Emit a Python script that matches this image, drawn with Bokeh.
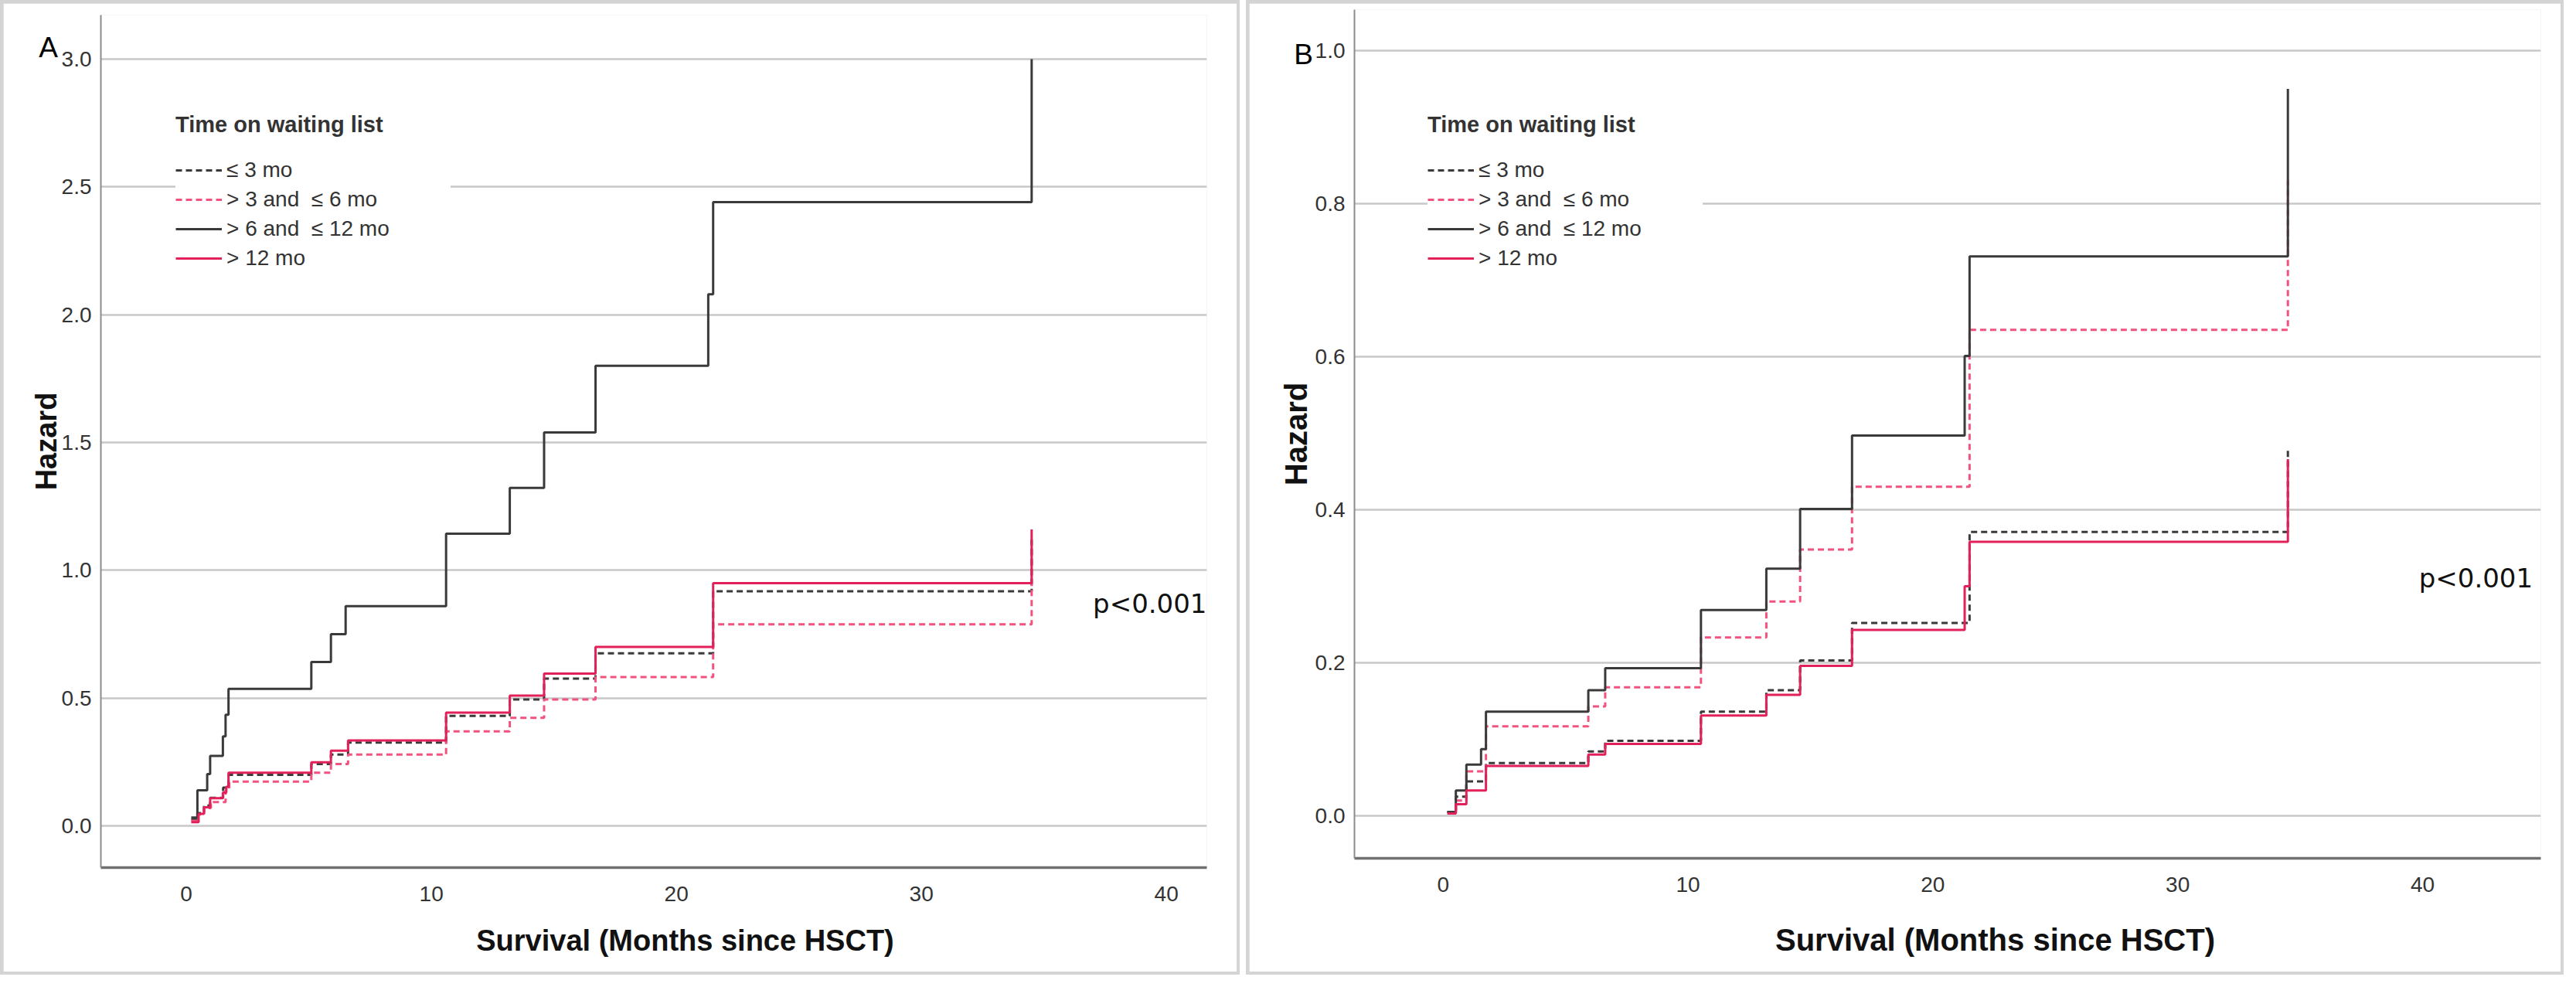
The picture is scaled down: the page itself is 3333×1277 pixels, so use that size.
from bokeh.plotting import figure
from bokeh.models import (FixedTicker, PrintfTickFormatter, Legend, LegendItem,
                          Label, Range1d, ColumnDataSource)
from bokeh.layouts import row, column
from bokeh.embed import file_html
from bokeh.resources import INLINE

# ---------------- data ----------------
legend_title = "Time on waiting list"
group_labels = ["≤ 3 mo", "> 3 and  ≤ 6 mo", "> 6 and  ≤ 12 mo", "> 12 mo"]
x_label = "Survival (Months since HSCT)"
y_label = "Hazard"
x_ticks = [0, 10, 20, 30, 40]
y_ticks_A = [0.0, 0.5, 1.0, 1.5, 2.0, 2.5, 3.0]
y_ticks_B = [0.0, 0.2, 0.4, 0.6, 0.8, 1.0]

# Panel A
tA_le3 = [0.2, 0.45, 0.72, 0.97, 1.5, 1.72, 5.1, 5.9, 6.6, 10.6, 13.2, 14.6, 16.7, 21.5, 34.5]
hA_le3 = [0.025, 0.05, 0.08, 0.11, 0.15, 0.20, 0.242, 0.279, 0.326, 0.43, 0.495, 0.576, 0.675, 0.918, 1.12]
tA_3to6 = [0.2, 0.45, 0.72, 1.0, 1.6, 1.75, 5.1, 5.9, 6.6, 10.6, 13.2, 14.6, 16.7, 21.5, 34.5]
hA_3to6 = [0.02, 0.045, 0.07, 0.093, 0.14, 0.173, 0.208, 0.242, 0.279, 0.37, 0.423, 0.495, 0.582, 0.789, 1.10]
tA_6to12 = [0.2, 0.45, 0.85, 0.97, 1.49, 1.6, 1.72, 5.1, 5.9, 6.5, 10.6, 13.2, 14.6, 16.7, 21.3, 21.5, 34.5]
hA_6to12 = [0.033, 0.139, 0.203, 0.274, 0.35, 0.435, 0.536, 0.641, 0.75, 0.86, 1.143, 1.322, 1.539, 1.80, 2.08, 2.44, 3.0]
tA_gt12 = [0.2, 0.5, 0.72, 0.97, 1.49, 1.63, 1.72, 5.1, 5.9, 6.6, 10.6, 13.2, 14.6, 16.7, 21.5, 34.5]
hA_gt12 = [0.015, 0.047, 0.073, 0.108, 0.13, 0.153, 0.208, 0.249, 0.294, 0.334, 0.443, 0.51, 0.596, 0.70, 0.95, 1.16]

# Panel B
tB_le3 = [0.17, 0.52, 0.95, 1.75, 5.93, 6.62, 10.53, 13.2, 14.58, 16.7, 21.5, 34.5]
hB_le3 = [0.005, 0.025, 0.045, 0.069, 0.084, 0.098, 0.136, 0.164, 0.203, 0.252, 0.371, 0.482]
tB_3to6 = [0.17, 0.52, 0.95, 1.75, 5.93, 6.62, 10.53, 13.2, 14.58, 16.7, 21.5, 34.5]
hB_3to6 = [0.005, 0.02, 0.058, 0.117, 0.143, 0.168, 0.233, 0.280, 0.348, 0.430, 0.635, 0.83]
tB_6to12 = [0.17, 0.52, 0.95, 1.55, 1.75, 5.93, 6.62, 10.53, 13.2, 14.58, 16.7, 21.3, 21.5, 34.5]
hB_6to12 = [0.005, 0.033, 0.067, 0.087, 0.136, 0.164, 0.193, 0.269, 0.323, 0.401, 0.497, 0.601, 0.731, 0.95]
tB_gt12 = [0.17, 0.52, 0.95, 1.75, 5.93, 6.62, 10.53, 13.2, 14.58, 16.7, 21.3, 21.5, 34.5]
hB_gt12 = [0.003, 0.015, 0.033, 0.065, 0.080, 0.094, 0.131, 0.158, 0.196, 0.243, 0.30, 0.358, 0.466]

p_text = "p<0.001"

# ---------------- styling ----------------
COL_BLACK = "#3a3a3a"
COL_RED = "#e2205a"
COL_PINK = "#f2527e"
LW = 3
DASH = "8 5"
FONT = "Liberation Sans"
BORDER = "#d4d4d4"


def make_panel(letter, width, height, mb, xr, yr, yticks, series, legend_xy,
               p_xy, letter_xy, xlab_xy, lab_size, ylab_standoff):
    p = figure(width=width, height=height, output_backend="svg",
               toolbar_location=None,
               x_range=Range1d(*xr), y_range=Range1d(*yr),
               min_border_left=mb[0], min_border_right=mb[1],
               min_border_top=mb[2], min_border_bottom=mb[3])
    p.outline_line_color = None
    p.background_fill_color = "white"
    p.border_fill_color = "white"
    p.margin = (4, 4, 4, 4)

    p.xaxis.ticker = FixedTicker(ticks=x_ticks)
    p.yaxis.ticker = FixedTicker(ticks=yticks)
    p.yaxis.formatter = PrintfTickFormatter(format="%.1f")
    p.xgrid.visible = False
    p.ygrid.grid_line_color = "#c8c8c8"
    p.ygrid.grid_line_width = 2.5

    for ax in (p.xaxis, p.yaxis):
        ax.major_tick_line_color = None
        ax.minor_tick_line_color = None
        ax.major_label_text_font = FONT
        ax.major_label_text_font_size = "28px"
        ax.major_label_text_color = "#333333"
        ax.axis_label_text_font = FONT
        ax.axis_label_text_font_size = lab_size
        ax.axis_label_text_font_style = "bold"
        ax.axis_label_text_color = "#111111"
    p.xaxis.axis_line_color = "#707070"
    p.xaxis.axis_line_width = 3.5
    p.yaxis.axis_line_color = "#8c8c8c"
    p.yaxis.axis_line_width = 2
    p.yaxis.axis_label = y_label
    p.xaxis.major_label_standoff = 18
    p.yaxis.major_label_standoff = 6
    p.yaxis.axis_label_standoff = ylab_standoff

    styles = [
        dict(line_color=COL_BLACK, line_dash=DASH),
        dict(line_color=COL_PINK, line_dash=DASH),
        dict(line_color=COL_BLACK, line_dash="solid"),
        dict(line_color=COL_RED, line_dash="solid"),
    ]
    renderers = []
    for (t, h), st in zip(series, styles):
        src = ColumnDataSource(dict(t=t, h=h))
        r = p.step(x="t", y="h", source=src, mode="after", line_width=LW, **st)
        renderers.append(r)

    items = [LegendItem(label=lab, renderers=[r]) for lab, r in zip(group_labels, renderers)]
    legend = Legend(items=items, location=legend_xy, title=legend_title,
                    title_text_font=FONT, title_text_font_style="bold",
                    title_text_font_size="29px", title_text_color="#333333",
                    title_standoff=26,
                    label_text_font=FONT, label_text_font_size="28px",
                    label_text_color="#333333",
                    glyph_width=60, glyph_height=30, label_height=30,
                    spacing=6, padding=20, label_standoff=6, label_width=290,
                    margin=0, border_line_color=None,
                    background_fill_color="white", background_fill_alpha=1.0)
    p.add_layout(legend)

    p.add_layout(Label(x=p_xy[0], y=p_xy[1], text=p_text, text_font="DejaVu Sans",
                       text_font_size="34px", text_color="#111111",
                       text_align="left", text_baseline="middle"))
    # texts outside the frame live in side panels so that they are not clipped
    p.add_layout(Label(x=letter_xy[0], y=letter_xy[1], x_units="canvas", y_units="canvas",
                       text=letter, text_font=FONT, text_font_size="37px",
                       text_color="#000000", text_align="center", text_baseline="middle"),
                 "left")
    p.add_layout(Label(x=xlab_xy[0], y=xlab_xy[1], x_units="canvas", y_units="canvas",
                       text=x_label, text_font=FONT, text_font_size=lab_size,
                       text_font_style="bold", text_color="#111111",
                       text_align="center", text_baseline="middle"),
                 "below")
    return p


pA = make_panel("A", 1596, 1253, (126, 39, 15, 135), (-3.49, 41.65), (-0.163, 3.172),
                y_ticks_A,
                [(tA_le3, hA_le3), (tA_3to6, hA_3to6), (tA_6to12, hA_6to12), (tA_gt12, hA_gt12)],
                (97, 772.5), (37.0, 0.87), (58, 57), (882, 1212), "38px", -4)
pB = make_panel("B", 1697, 1253, (136, 26, 8, 147), (-3.62, 44.83), (-0.0556, 1.0535),
                y_ticks_B,
                [(tB_le3, hB_le3), (tB_3to6, hB_3to6), (tB_6to12, hB_6to12), (tB_gt12, hB_gt12)],
                (95, 760.5), (39.85, 0.311), (70, 66), (965, 1211), "40px", 0)

colA = column(pA, styles={"background-color": BORDER})
colB = column(pB, styles={"background-color": BORDER})
layout = row(colA, colB, spacing=8)
open("out.html", "w").write(file_html(layout, INLINE))
